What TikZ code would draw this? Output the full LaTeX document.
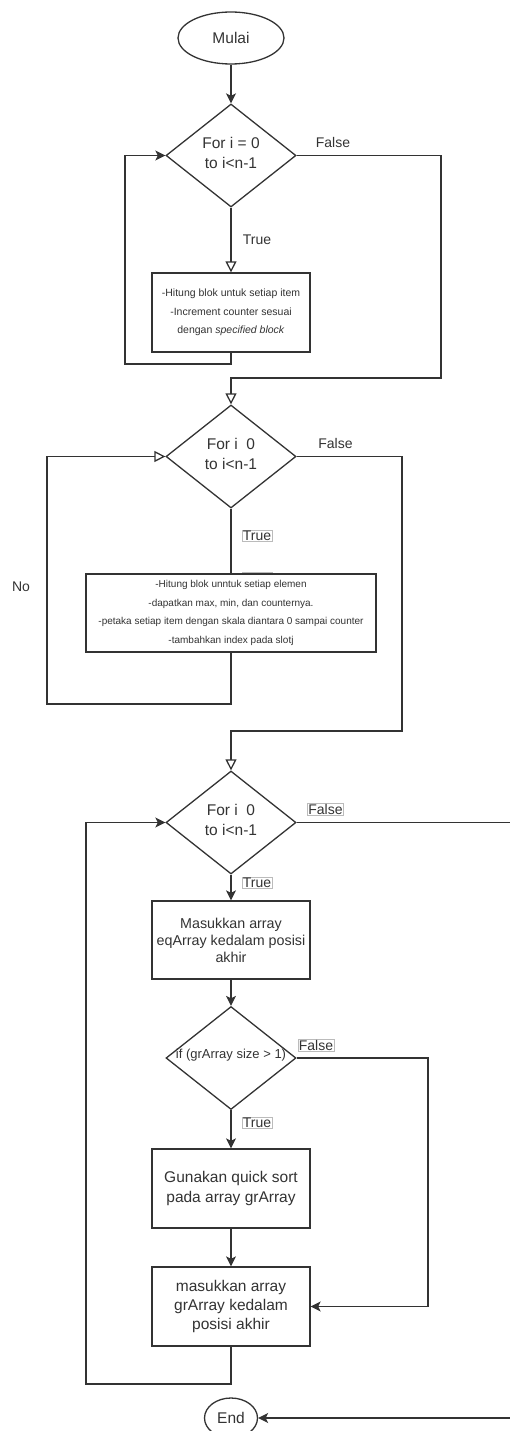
\documentclass[tikz,border=0pt]{standalone}
\usepackage{fontspec}
\setmainfont{Liberation Sans}
\usetikzlibrary{shapes.geometric,arrows.meta}
\definecolor{ink}{HTML}{333333}
\definecolor{lbl}{HTML}{BBBBBB}
\begin{document}
\begin{tikzpicture}[x=1pt,y=-1pt,
  every node/.style={text=ink},
  ln/.style={draw=ink,line width=1.3pt},
  fa/.style={ln,-{Stealth[length=10pt,width=10pt,inset=2.5pt]}},
  oa/.style={ln,-{Triangle[open,length=11pt,width=11pt,fill=white]}},
  term/.style={ellipse,draw=ink,line width=1.3pt,inner sep=0pt},
  dec/.style={diamond,draw=ink,line width=1.3pt,minimum width=130pt,minimum height=103pt,inner sep=0pt},
  proc/.style={rectangle,draw=ink,line width=1.3pt,fill=white,inner sep=0pt,align=center},
  big/.style={font=\fontsize{15.5}{20}\selectfont},
  lab/.style={font=\fontsize{14}{16}\selectfont,inner sep=0.8pt},
  blab/.style={lab,draw=lbl,line width=0.6pt,fill=white}
]
\useasboundingbox (0,0) rectangle (509,1431);

\node[term,minimum width=106pt,minimum height=52pt,big] (mulai) at (231,38) {Mulai};

\node[dec] (d1) at (231,155.5) {};
\node[big,align=center] (t1) at (231,153) {For i = 0\\to i<n-1};

\node[proc,minimum width=158pt,minimum height=79pt,font=\fontsize{10.5}{18.5}\selectfont] (b1) at (231,312.5)
  {-Hitung blok untuk setiap item\\-Increment counter sesuai\\dengan \textit{specified block}};

\node[dec] (d2) at (231,456.5) {};
\node[big,align=center] (t2) at (231,454) {For i\ \ 0\\to i<n-1};

\draw[lbl,line width=0.6pt] (242,590) -- (242,572) -- (272,572) -- (272,590);
\node[proc,minimum width=290pt,minimum height=78pt,font=\fontsize{10}{18.7}\selectfont] (b2) at (231,613)
  {-Hitung blok unntuk setiap elemen\\-dapatkan max, min, dan counternya.\\-petaka setiap item dengan skala diantara 0 sampai counter\\-tambahkan index pada slotj};

\node[dec] (d3) at (231,822.5) {};
\node[big,align=center] (t3) at (231,820) {For i\ \ 0\\to i<n-1};

\node[proc,minimum width=158pt,minimum height=78pt,font=\fontsize{14.3}{17}\selectfont] (b3) at (231,940)
  {Masukkan array\\eqArray kedalam posisi\\akhir};

\node[dec] (d4) at (231,1058) {};
\node[font=\fontsize{13}{15}\selectfont] (t4) at (231,1055) {if (grArray size > 1)};

\node[proc,minimum width=158pt,minimum height=79pt,big] (b4) at (231,1188.5)
  {Gunakan quick sort\\pada array grArray};

\node[proc,minimum width=158pt,minimum height=79pt,font=\fontsize{15.5}{19}\selectfont] (b5) at (231,1306.5)
  {masukkan array\\grArray kedalam\\posisi akhir};

\node[term,minimum width=53pt,minimum height=40pt,big] (end) at (231,1418) {End};

\coordinate (c1a) at (441,155.5);
\coordinate (c1b) at (441,378);
\coordinate (c1c) at (231,378);
\coordinate (l1a) at (231,364);
\coordinate (l1b) at (125,364);
\coordinate (l1c) at (125,155.5);
\coordinate (c2a) at (402,456.5);
\coordinate (c2b) at (402,731);
\coordinate (c2c) at (231,731);
\coordinate (l2a) at (231,704);
\coordinate (l2b) at (47,704);
\coordinate (l2c) at (47,456.5);
\coordinate (c3a) at (514,822.5);
\coordinate (c3b) at (514,1418);
\coordinate (c4a) at (428,1058);
\coordinate (c4b) at (428,1306.5);
\coordinate (l3a) at (231,1384);
\coordinate (l3b) at (86,1384);
\coordinate (l3c) at (86,822.5);

\draw[fa] (mulai) -- (d1);
\draw[oa] (d1) -- (b1);
\draw[oa] (d1.east) -- (c1a) -- (c1b) -- (c1c) -- (d2.north);
\draw[fa] (b1.south) -- (l1a) -- (l1b) -- (l1c) -- (d1.west);

\draw[ln] (d2.south) -- (b2.north);
\draw[oa] (d2.east) -- (c2a) -- (c2b) -- (c2c) -- (d3.north);
\draw[oa] (b2.south) -- (l2a) -- (l2b) -- (l2c) -- (d2.west);

\draw[fa] (d3) -- (b3);
\draw[fa] (d3.east) -- (c3a) -- (c3b) -- (end.east);
\draw[fa] (b3) -- (d4);
\draw[fa] (d4) -- (b4);
\draw[fa] (d4.east) -- (c4a) -- (c4b) -- (b5.east);
\draw[fa] (b4) -- (b5);
\draw[fa] (b5.south) -- (l3a) -- (l3b) -- (l3c) -- (d3.west);

\node[lab] (f1) at (333,142) {False};
\node[lab] (tr1) at (257,240) {True};
\node[lab] (f2) at (335.5,443) {False};
\node[blab] (tr2) at (257,536) {True};
\node[lab] (no) at (21,587) {No};
\node[blab] (f3) at (325.5,809.5) {False};
\node[blab] (tr3) at (257,882.5) {True};
\node[blab] (f4) at (316,1045) {False};
\node[blab] (tr4) at (257,1123) {True};
\end{tikzpicture}
\end{document}
